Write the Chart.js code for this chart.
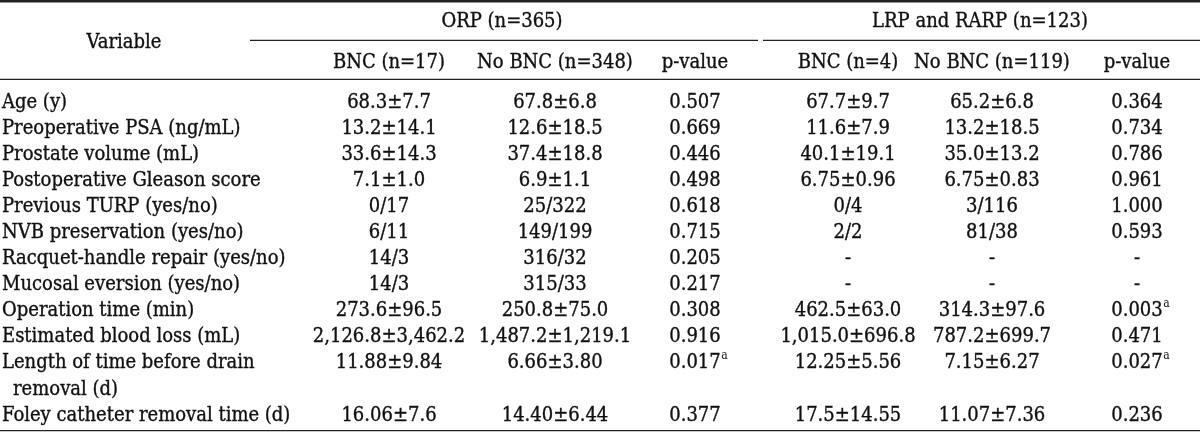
<!DOCTYPE html>
<html>
<head>
<meta charset="utf-8">
<script src="https://cdn.jsdelivr.net/npm/chart.js@4"></script>
<style>
  html, body { margin: 0; padding: 0; background: #fff; }
  #wrap { width: 1200px; height: 432px; }
</style>
</head>
<body>
<div id="wrap"><canvas id="tabela"></canvas></div>
<script>
// dados da tabela
const variables = [
  "Age (y)",
  "Preoperative PSA (ng/mL)",
  "Prostate volume (mL)",
  "Postoperative Gleason score",
  "Previous TURP (yes/no)",
  "NVB preservation (yes/no)",
  "Racquet-handle repair (yes/no)",
  "Mucosal eversion (yes/no)",
  "Operation time (min)",
  "Estimated blood loss (mL)",
  ["Length of time before drain", "removal (d)"],
  "Foley catheter removal time (d)",
];
const groups = ["ORP (n=365)", "LRP and RARP (n=123)"];
const columns = ["BNC (n=17)", "No BNC (n=348)", "p-value", "BNC (n=4)", "No BNC (n=119)", "p-value"];

const orpBnc = ["68.3±7.7", "13.2±14.1", "33.6±14.3", "7.1±1.0", "0/17", "6/11", "14/3", "14/3",
  "273.6±96.5", "2,126.8±3,462.2", "11.88±9.84", "16.06±7.6"];
const orpNoBnc = ["67.8±6.8", "12.6±18.5", "37.4±18.8", "6.9±1.1", "25/322", "149/199", "316/32", "315/33",
  "250.8±75.0", "1,487.2±1,219.1", "6.66±3.80", "14.40±6.44"];
const orpP = ["0.507", "0.669", "0.446", "0.498", "0.618", "0.715", "0.205", "0.217",
  "0.308", "0.916", "0.017^a", "0.377"];
const lrpBnc = ["67.7±9.7", "11.6±7.9", "40.1±19.1", "6.75±0.96", "0/4", "2/2", "-", "-",
  "462.5±63.0", "1,015.0±696.8", "12.25±5.56", "17.5±14.55"];
const lrpNoBnc = ["65.2±6.8", "13.2±18.5", "35.0±13.2", "6.75±0.83", "3/116", "81/38", "-", "-",
  "314.3±97.6", "787.2±699.7", "7.15±6.27", "11.07±7.36"];
const lrpP = ["0.364", "0.734", "0.786", "0.961", "1.000", "0.593", "-", "-",
  "0.003^a", "0.471", "0.027^a", "0.236"];

// layout (unidades da escala x = px, escala y = linhas)
const FONT = "20px 'DejaVu Serif Condensed', 'DejaVu Serif'";
const SUP_FONT = "12px 'DejaVu Serif Condensed', 'DejaVu Serif'";
const colX = [2, 389, 555, 695, 848, 992, 1137];
const groupX = [502, 980];
const groupLines = [[250, 758], [763, 1200]];
const yGroup = -3.05, yHead = -1.5, yVariable = -2.27;
const rules = [
  { y: -3.85, x0: 0, x1: 1200, w: 2.5 },
  { y: -0.85, x0: 0, x1: 1200, w: 1.3 },
  { y: 12.65, x0: 0, x1: 1200, w: 1.3 },
];

// linha de cada variável (a variável longa ocupa duas linhas)
const lineIdx = [];
let n = 0;
variables.forEach((v) => {
  lineIdx.push(n + 0.06);
  n += Array.isArray(v) ? v.length : 1;
});

const colunas = [variables.map((v) => (Array.isArray(v) ? v : [v])), orpBnc, orpNoBnc, orpP, lrpBnc, lrpNoBnc, lrpP];

const datasets = colunas.map((vals, c) => ({
  label: c === 0 ? "Variable" : columns[c - 1],
  texts: vals,
  align: c === 0 ? "left" : "center",
  data: vals.map((_, i) => ({ x: colX[c], y: lineIdx[i] })),
  pointRadius: 0,
}));

function drawCell(ctx, txt, x, y, align) {
  const [main, sup] = String(txt).split("^");
  ctx.font = FONT;
  ctx.textAlign = align;
  ctx.fillText(main, x, y);
  ctx.strokeText(main, x, y);
  if (sup) {
    const w = ctx.measureText(main).width;
    const right = align === "center" ? x + w / 2 : x + w;
    ctx.font = SUP_FONT;
    ctx.textAlign = "left";
    ctx.fillText(sup, right + 0.5, y - 7);
  }
}

const tablePlugin = {
  id: "tabela",
  afterDatasetsDraw(chart) {
    const { ctx, scales } = chart;
    const sx = scales.x, sy = scales.y;
    const lineH = sy.getPixelForValue(1) - sy.getPixelForValue(0);
    ctx.save();

    // linhas horizontais
    ctx.strokeStyle = "#222";
    rules.forEach((r) => {
      ctx.lineWidth = r.w;
      ctx.beginPath();
      ctx.moveTo(sx.getPixelForValue(r.x0), sy.getPixelForValue(r.y));
      ctx.lineTo(sx.getPixelForValue(r.x1), sy.getPixelForValue(r.y));
      ctx.stroke();
    });
    ctx.lineWidth = 1.3;
    groupLines.forEach(([a, b]) => {
      const y = sy.getPixelForValue(-2.35);
      ctx.beginPath();
      ctx.moveTo(sx.getPixelForValue(a), y);
      ctx.lineTo(sx.getPixelForValue(b), y);
      ctx.stroke();
    });

    // texto
    ctx.fillStyle = "#111";
    ctx.strokeStyle = "#111";
    ctx.lineWidth = 0.35;
    ctx.textBaseline = "middle";

    // cabeçalhos
    drawCell(ctx, "Variable", sx.getPixelForValue(124), sy.getPixelForValue(yVariable), "center");
    groups.forEach((g, i) => drawCell(ctx, g, sx.getPixelForValue(groupX[i]), sy.getPixelForValue(yGroup), "center"));
    columns.forEach((c, i) => drawCell(ctx, c, sx.getPixelForValue(colX[i + 1]), sy.getPixelForValue(yHead), "center"));

    // células
    chart.data.datasets.forEach((ds, d) => {
      const meta = chart.getDatasetMeta(d);
      meta.data.forEach((pt, i) => {
        const t = ds.texts[i];
        if (Array.isArray(t)) {
          t.forEach((line, k) => drawCell(ctx, line, pt.x + (k > 0 ? 11 : 0), pt.y + k * lineH, ds.align));
        } else {
          drawCell(ctx, t, pt.x, pt.y, ds.align);
        }
      });
    });
    ctx.restore();
  },
};

new Chart(document.getElementById("tabela"), {
  type: "scatter",
  data: { datasets },
  options: {
    responsive: true,
    maintainAspectRatio: false,
    animation: false,
    layout: { padding: 0 },
    plugins: { legend: { display: false }, tooltip: { enabled: false } },
    scales: {
      x: { type: "linear", min: 0, max: 1200, display: false },
      y: { type: "linear", min: -3.9, max: 12.7, reverse: true, display: false },
    },
  },
  plugins: [tablePlugin],
});
</script>
</body>
</html>
